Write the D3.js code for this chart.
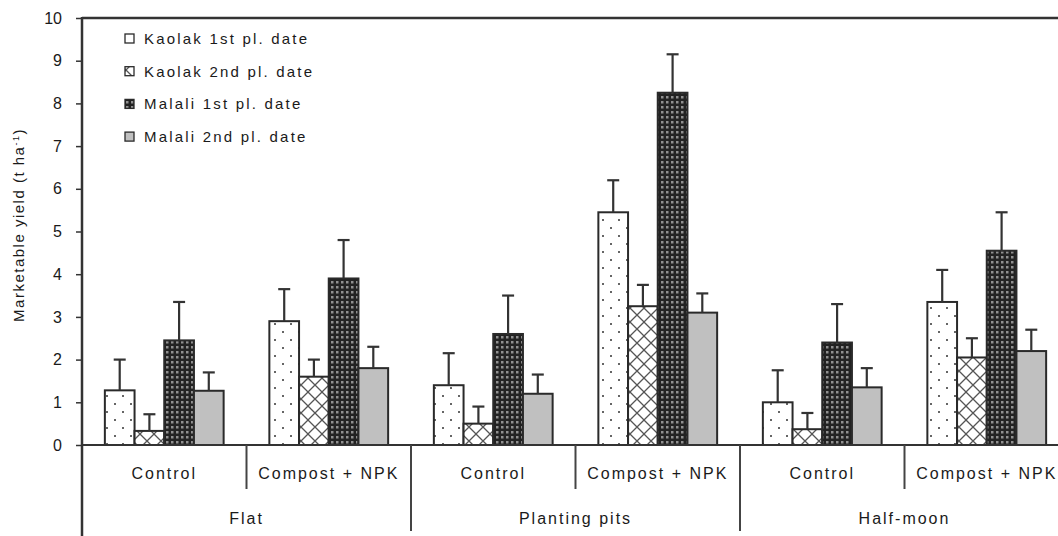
<!DOCTYPE html>
<html>
<head>
<meta charset="utf-8">
<script src="https://cdn.jsdelivr.net/npm/d3@7/dist/d3.min.js"></script>
<style>
  html, body { margin: 0; padding: 0; background: #fff; }
  svg { display: block; }
  text { font-family: "Liberation Sans", Arial, sans-serif; fill: #1a1a1a; }
</style>
</head>
<body>
<svg id="chart" width="1058" height="536"></svg>
<script>
// ---- data ----
const systems = ["Flat", "Planting pits", "Half-moon"];
const treatments = ["Control", "Compost + NPK"];
const series = ["Kaolak 1st pl. date", "Kaolak 2nd pl. date", "Malali 1st pl. date", "Malali 2nd pl. date"];
// values per series, order: Flat-Control, Flat-Compost, Pits-Control, Pits-Compost, Half-Control, Half-Compost
const kaolak1 = [1.28, 2.9, 1.4, 5.45, 1.0, 3.35];
const kaolak2 = [0.33, 1.6, 0.5, 3.25, 0.37, 2.05];
const malali1 = [2.45, 3.9, 2.6, 8.25, 2.4, 4.55];
const malali2 = [1.27, 1.8, 1.2, 3.1, 1.35, 2.2];
// upper end of error bars
const kaolak1Err = [2.0, 3.65, 2.15, 6.2, 1.75, 4.1];
const kaolak2Err = [0.72, 2.0, 0.9, 3.75, 0.75, 2.5];
const malali1Err = [3.35, 4.8, 3.5, 9.15, 3.3, 5.45];
const malali2Err = [1.7, 2.3, 1.65, 3.55, 1.8, 2.7];
const yTicks = [0,1,2,3,4,5,6,7,8,9,10];

const values = [kaolak1, kaolak2, malali1, malali2];
const errs = [kaolak1Err, kaolak2Err, malali1Err, malali2Err];

const groups = [];
systems.forEach(s => treatments.forEach(t => groups.push(s + "|" + t)));

const rows = [];
groups.forEach((g, gi) => series.forEach((se, si) => rows.push({g, gi, si, se, v: values[si][gi], e: errs[si][gi]})));

// ---- layout ----
const svg = d3.select("#chart");
const mLeft = 82, mTop = 18, mBottom = 445;
const subW = 164.5;
const mRight = mLeft + groups.length * subW;

const x0 = d3.scaleBand().domain(groups).range([mLeft, mRight]).paddingInner(0).paddingOuter(0);
const x1 = d3.scaleBand().domain(series).range([0, x0.bandwidth()]).paddingInner(0).paddingOuter(0.77);
const y = d3.scaleLinear().domain([0, 10]).range([mBottom, mTop]);

// ---- patterns ----
const defs = svg.append("defs");
const pDots = defs.append("pattern").attr("id", "dots").attr("patternUnits", "userSpaceOnUse")
  .attr("width", 16).attr("height", 16);
pDots.append("rect").attr("width", 16).attr("height", 16).attr("fill", "#fff");
pDots.append("rect").attr("x", 2).attr("y", 3).attr("width", 2).attr("height", 2).attr("fill", "#666");
pDots.append("rect").attr("x", 10).attr("y", 11).attr("width", 2).attr("height", 2).attr("fill", "#666");

const pCross = defs.append("pattern").attr("id", "cross").attr("patternUnits", "userSpaceOnUse")
  .attr("width", 14).attr("height", 14);
pCross.append("rect").attr("width", 14).attr("height", 14).attr("fill", "#fff");
pCross.append("path").attr("d", "M0,0L14,14M14,0L0,14").attr("stroke", "#555").attr("stroke-width", 1.3);

const pChk = defs.append("pattern").attr("id", "chk").attr("patternUnits", "userSpaceOnUse")
  .attr("width", 5).attr("height", 5);
pChk.append("rect").attr("width", 5).attr("height", 5).attr("fill", "#222");
pChk.append("rect").attr("x", 1).attr("y", 1).attr("width", 2.5).attr("height", 2.5).attr("fill", "#909090");

const fills = ["url(#dots)", "url(#cross)", "url(#chk)", "#c0c0c0"];

// ---- frame ----
svg.append("line").attr("x1", mLeft).attr("x2", 1058).attr("y1", mTop).attr("y2", mTop)
  .attr("stroke", "#333").attr("stroke-width", 2.5);

// ---- bars ----
const bars = svg.append("g");
bars.selectAll("rect").data(rows).join("rect")
  .attr("x", d => x0(d.g) + x1(d.se))
  .attr("y", d => y(d.v))
  .attr("width", x1.bandwidth())
  .attr("height", d => y(0) - y(d.v))
  .attr("fill", d => fills[d.si])
  .attr("stroke", "#2a2a2a").attr("stroke-width", 2);

// error bars
const eb = svg.append("g").attr("stroke", "#333").attr("stroke-width", 2.2);
eb.selectAll("line.v").data(rows).join("line").attr("class", "v")
  .attr("x1", d => x0(d.g) + x1(d.se) + x1.bandwidth() / 2)
  .attr("x2", d => x0(d.g) + x1(d.se) + x1.bandwidth() / 2)
  .attr("y1", d => y(d.v)).attr("y2", d => y(d.e));
eb.selectAll("line.c").data(rows).join("line").attr("class", "c")
  .attr("x1", d => x0(d.g) + x1(d.se) + x1.bandwidth() / 2 - 6)
  .attr("x2", d => x0(d.g) + x1(d.se) + x1.bandwidth() / 2 + 6)
  .attr("y1", d => y(d.e)).attr("y2", d => y(d.e));

// ---- y axis ----
const yAxis = d3.axisLeft(y).tickValues(yTicks).tickSize(6).tickPadding(14).tickFormat(d3.format("d"));
const ya = svg.append("g").attr("transform", `translate(${mLeft},0)`).call(yAxis);
ya.select(".domain").remove();
ya.selectAll(".tick line").attr("stroke", "#333").attr("stroke-width", 1.5);
ya.selectAll(".tick text").style("font-size", "16px").attr("fill", "#1a1a1a")
  .style("font-family", "'Liberation Sans', Arial, sans-serif");
svg.append("line").attr("x1", mLeft).attr("x2", mLeft).attr("y1", mTop - 1).attr("y2", 536)
  .attr("stroke", "#333").attr("stroke-width", 2.5);

// x baseline
svg.append("line").attr("x1", mLeft).attr("x2", 1058).attr("y1", mBottom).attr("y2", mBottom)
  .attr("stroke", "#333").attr("stroke-width", 2);

// ---- x category dividers & labels ----
const xg = svg.append("g");
groups.forEach((g, gi) => {
  const xs = x0(g);
  if (gi > 0) {
    const major = gi % treatments.length === 0;
    xg.append("line").attr("x1", xs).attr("x2", xs).attr("y1", mBottom)
      .attr("y2", major ? 531 : 489).attr("stroke", "#444").attr("stroke-width", 2);
  }
  xg.append("text").attr("x", xs + x0.bandwidth() / 2).attr("y", 479)
    .attr("text-anchor", "middle").style("font-size", "16px").style("letter-spacing", "2px")
    .text(g.split("|")[1]);
});
systems.forEach((s, si) => {
  const xs = x0(s + "|" + treatments[0]);
  xg.append("text").attr("x", xs + x0.bandwidth()).attr("y", 524)
    .attr("text-anchor", "middle").style("font-size", "16px").style("letter-spacing", "2px")
    .text(s);
});

// ---- y label ----
const yl = svg.append("text").attr("transform", "translate(24,225) rotate(-90)")
  .attr("text-anchor", "middle").style("font-size", "15px").style("letter-spacing", "1.5px");
yl.append("tspan").text("Marketable yield (t ha");
yl.append("tspan").attr("dy", -5).style("font-size", "9px").text("-1");
yl.append("tspan").attr("dy", 5).text(")");

// ---- legend ----
const lg = svg.append("g");
series.forEach((s, i) => {
  const cy = 39 + i * 32.7;
  lg.append("rect").attr("x", 125).attr("y", cy - 5).attr("width", 9).attr("height", 9)
    .attr("fill", i === 0 ? "#fff" : i === 1 ? "url(#cross)" : fills[i])
    .attr("stroke", "#2a2a2a").attr("stroke-width", 1.3);
  lg.append("text").attr("x", 144).attr("y", cy + 5).style("font-size", "15px")
    .style("letter-spacing", "2.2px").text(s);
});
</script>
</body>
</html>
